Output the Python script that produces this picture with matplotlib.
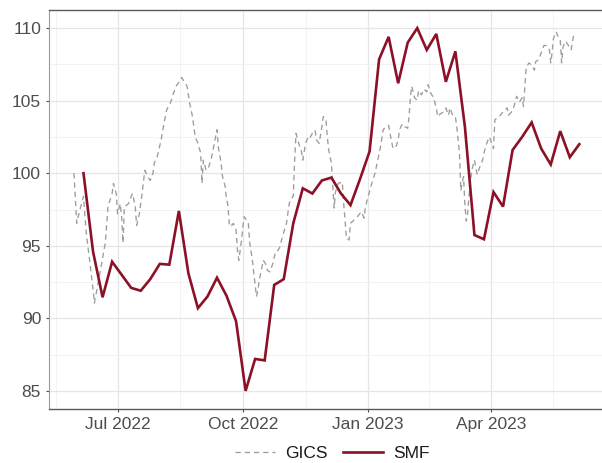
import numpy as np
import pandas as pd
import matplotlib
matplotlib.use("Agg")
import matplotlib.pyplot as plt
import matplotlib.dates as mdates
from matplotlib.lines import Line2D

# ---------------- data ----------------
gics_start = "2022-05-30"
gics_offset_days = [
    0, 2, 4, 7, 9, 12, 14, 15, 19, 23, 25, 28, 29, 31, 32, 34, 35, 36, 37, 40,
    42, 43, 45, 46, 48, 50, 52, 54, 56, 58, 59, 61, 62, 64, 66, 68, 71, 73, 75, 78,
    79, 81, 83, 85, 87, 89, 91, 93, 94, 95, 97, 99, 101, 103, 105, 106, 108, 109, 111, 112,
    113, 114, 115, 117, 119, 120, 121, 123, 124, 125, 128, 129, 131, 132, 134, 135, 136, 138, 139, 141,
    142, 144, 146, 148, 150, 151, 153, 156, 158, 159, 161, 162, 163, 165, 167, 168, 170, 172, 173, 175,
    177, 178, 180, 182, 183, 185, 186, 187, 189, 190, 191, 192, 194, 197, 198, 199, 200, 202, 203, 206,
    208, 211, 213, 214, 216, 218, 221, 223, 225, 227, 229, 231, 232, 234, 236, 238, 239, 241, 243, 245,
    246, 247, 248, 250, 252, 253, 255, 256, 257, 259, 260, 262, 264, 266, 267, 269, 271, 273, 275, 276,
    278, 280, 281, 283, 284, 285, 286, 287, 288, 289, 290, 292, 294, 295, 296, 298, 300, 302, 304, 305,
    308, 309, 311, 313, 316, 318, 319, 321, 323, 325, 327, 329, 330, 331, 332, 334, 336, 338, 339, 341,
    343, 345, 347, 349, 350, 351, 352, 354, 355, 357, 358, 359, 361, 363, 365, 366, 367,
]
gics_values = [
    100.0, 96.55, 97.35, 98.4, 95.9, 93.6, 92.0, 91.05, 93.1, 95.2, 97.7, 98.6, 99.3, 98.6, 97.2, 97.9, 97.0, 95.2, 97.7, 97.9,
    98.4, 98.6, 97.7, 96.4, 97.2, 98.6, 100.2, 99.8, 99.5, 100.0, 100.7, 101.1, 101.5, 102.3, 103.4, 104.35, 104.9, 105.5, 106.0, 106.4,
    106.6, 106.3, 106.0, 104.8, 103.9, 102.5, 102.06, 101.4, 99.3, 100.9, 100.2, 100.45, 101.1, 102.06, 103.0, 101.8, 100.7, 99.8, 99.1, 98.2,
    97.8, 96.55, 96.3, 96.55, 96.1, 94.7, 94.0, 95.4, 96.3, 97.0, 96.55, 95.2, 94.0, 93.1, 91.5, 91.95, 92.6, 93.55, 94.0, 93.7,
    93.3, 93.2, 93.8, 94.6, 94.7, 94.9, 95.6, 96.55, 97.9, 98.2, 98.4, 100.9, 102.75, 102.06, 101.5, 100.9, 102.06, 102.5, 102.4, 102.75,
    102.97, 102.3, 102.06, 103.2, 103.9, 103.7, 102.5, 101.6, 100.7, 99.2, 97.6, 98.7, 99.3, 99.4, 97.9, 96.8, 95.5, 95.4, 96.55, 96.8,
    97.0, 97.35, 96.9, 97.7, 98.4, 99.1, 100.0, 100.9, 101.8, 103.0, 103.2, 103.3, 102.75, 101.8, 101.7, 102.3, 103.0, 103.4, 103.2, 103.1,
    103.9, 105.3, 106.0, 105.2, 105.04, 105.7, 105.4, 105.6, 105.8, 105.6, 106.1, 105.5, 105.2, 104.5, 103.9, 104.1, 104.2, 104.5, 104.0, 104.5,
    104.0, 103.9, 103.2, 101.4, 98.8, 99.4, 99.76, 97.8, 96.7, 97.25, 98.4, 100.2, 100.9, 100.45, 99.9, 100.45, 100.9, 101.8, 102.3, 102.5,
    101.7, 103.7, 103.8, 104.0, 104.35, 104.5, 104.0, 104.2, 104.6, 105.3, 104.9, 105.2, 104.6, 106.0, 107.3, 107.6, 107.45, 107.1, 107.7, 107.8,
    108.3, 108.8, 108.8, 108.5, 107.6, 108.3, 109.3, 109.75, 109.5, 109.2, 107.6, 108.7, 109.1, 108.8, 108.5, 109.1, 109.6,
]

smf_start = "2022-06-06"
smf_values = [
    100.0, 94.6, 91.45, 93.9, 93.0, 92.1, 91.9, 92.7, 93.75, 93.7,
    97.4, 93.1, 90.7, 91.5, 92.8, 91.55, 89.8, 85.0, 87.2, 87.1,
    92.3, 92.7, 96.55, 98.96, 98.6, 99.5, 99.7, 98.6, 97.8, 99.6,
    101.5, 107.85, 109.4, 106.2, 109.0, 110.0, 108.5, 109.6, 106.3, 108.4,
    103.2, 95.74, 95.45, 98.7, 97.7, 101.6, 102.5, 103.5, 101.7, 100.6,
    102.9, 101.1, 102.0,
]

series_names = ["GICS", "SMF"]
y_ticks = [85, 90, 95, 100, 105, 110]
x_tick_months = [1, 4, 7, 10]

gics_dates = pd.Timestamp(gics_start) + pd.to_timedelta(gics_offset_days, unit="D")
smf_dates = pd.date_range(smf_start, periods=len(smf_values), freq="7D")

# ---------------- style ----------------
plt.rcParams["font.family"] = ["Liberation Sans", "DejaVu Sans"]
plt.rcParams["font.size"] = 12.5

W, H = 602, 463
fig = plt.figure(figsize=(W / 100, H / 100), dpi=100)
left_px, right_px, top_px, bottom_px = 48.7, 604.6, 10.0, 409.0
ax = fig.add_axes([left_px / W, (H - bottom_px) / H,
                   (right_px - left_px) / W, (bottom_px - top_px) / H])

gics_color = "#9c9c9c"
smf_color = "#8c1026"

ax.plot(gics_dates, gics_values, color=gics_color, lw=0.95,
        linestyle=(0, (4, 3)), zorder=3)
ax.plot(smf_dates, smf_values, color=smf_color, lw=1.9,
        solid_joinstyle="miter", zorder=4)

# limits with ggplot-like 5% expansion
all_dates = np.concatenate([mdates.date2num(gics_dates), mdates.date2num(smf_dates)])
xmin, xmax = all_dates.min(), all_dates.max()
xr = xmax - xmin
all_vals = np.concatenate([gics_values, smf_values])
ymin, ymax = all_vals.min(), all_vals.max()
yr = ymax - ymin

# ticks
ax.xaxis.set_major_locator(mdates.MonthLocator(bymonth=x_tick_months))
ax.xaxis.set_major_formatter(mdates.DateFormatter("%b %Y"))
major_x = [mdates.date2num(pd.Timestamp(d)) for d in
           ["2022-04-01", "2022-07-01", "2022-10-01", "2023-01-01", "2023-04-01", "2023-07-01"]]
minor_x = [(a + b) / 2 for a, b in zip(major_x[:-1], major_x[1:])]
ax.set_xticks(minor_x, minor=True)
ax.set_yticks(y_ticks)
ax.set_yticks([t + 2.5 for t in [80] + y_ticks], minor=True)
ax.set_xlim(xmin - 0.05 * xr, xmax + 0.05 * xr)
ax.set_ylim(ymin - 0.05 * yr, ymax + 0.05 * yr)

ax.grid(which="major", color="#e6e6e6", lw=0.9, zorder=0)
ax.grid(which="minor", color="#f0f0f0", lw=0.6, zorder=0)
ax.set_axisbelow(True)

ax.tick_params(which="major", length=2.5, width=0.8, color="#4d4d4d",
               labelcolor="#4d4d4d", labelsize=12.5, pad=3)
ax.tick_params(which="minor", length=0)

for side in ["top", "bottom"]:
    ax.spines[side].set_color("#5a5a5a")
    ax.spines[side].set_linewidth(1.0)
ax.spines["left"].set_color("#9a9a9a")
ax.spines["left"].set_linewidth(0.8)
ax.spines["right"].set_visible(False)

handles = [Line2D([], [], color=gics_color, lw=0.95, linestyle=(0, (4, 3))),
           Line2D([], [], color=smf_color, lw=1.9)]
fig.legend(handles, series_names, loc="center", ncol=2, frameon=False,
           bbox_to_anchor=(0.552, (H - 453.5) / H), handlelength=2.3,
           handletextpad=0.6, columnspacing=0.85, fontsize=12.5,
           labelcolor="#1a1a1a", borderpad=0.1)

fig.savefig("out.png", dpi=100)
